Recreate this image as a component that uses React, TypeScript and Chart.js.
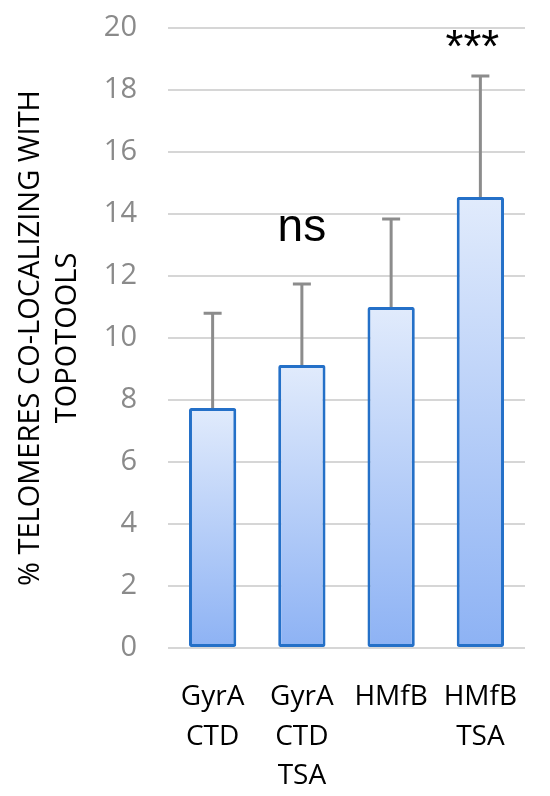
import React, { useEffect, useRef } from "react";
import { Chart, registerables } from "chart.js";

Chart.register(...registerables);

const categories: (string | string[])[] = [["GyrA", "CTD"], ["GyrA", "CTD", "TSA"], "HMfB", ["HMfB", "TSA"]];
const values: number[] = [7.74, 9.13, 11.0, 14.55];
const errors: number[] = [3.06, 2.61, 2.84, 3.9];
const significance: string[] = ["", "ns", "", "***"];
const yTitle: string[] = ["% TELOMERES CO-LOCALIZING WITH", "TOPOTOOLS"];
const yMin = 0;
const yMax = 20;
const yStep = 2;

const FONT = "'Open Sans', 'Liberation Sans', sans-serif";

const errorBarPlugin = {
  id: "errorBars",
  afterDatasetsDraw(chart: any) {
    const { ctx } = chart;
    const meta = chart.getDatasetMeta(0);
    const y = chart.scales.y;
    ctx.save();
    ctx.strokeStyle = "#8c8c8c";
    ctx.lineWidth = 3;
    meta.data.forEach((bar: any, i: number) => {
      const x = bar.x;
      const yTop = y.getPixelForValue(values[i] + errors[i]);
      const yBase = y.getPixelForValue(values[i]);
      ctx.beginPath();
      ctx.moveTo(x, yBase);
      ctx.lineTo(x, yTop);
      ctx.moveTo(x - 9, yTop);
      ctx.lineTo(x + 9, yTop);
      ctx.stroke();
    });
    ctx.restore();
  },
};

const annotationPlugin = {
  id: "annotations",
  afterDraw(chart: any) {
    const { ctx, chartArea } = chart;
    const meta = chart.getDatasetMeta(0);
    const y = chart.scales.y;
    ctx.save();
    ctx.fillStyle = "#000";
    ctx.textAlign = "center";
    ctx.textBaseline = "middle";
    meta.data.forEach((bar: any, i: number) => {
      const s = significance[i];
      if (!s) return;
      if (s === "ns") {
        ctx.font = "46px 'Liberation Sans', Arial, sans-serif";
        ctx.fillText(s, bar.x, y.getPixelForValue(13.55));
      } else {
        ctx.font = "46px 'Liberation Sans', Arial, sans-serif";
        ctx.fillText(s, bar.x - 8, y.getPixelForValue(19.3));
      }
    });
    // y axis title
    ctx.fillStyle = "#000";
    ctx.font = `29px ${FONT}`;
    const cy = (chartArea.top + chartArea.bottom) / 2;
    ctx.translate(0, cy);
    ctx.rotate(-Math.PI / 2);
    ctx.fillText(yTitle[0], 0, 31);
    ctx.fillText(yTitle[1], 0, 68);
    ctx.restore();
  },
};

export default function App() {
  const canvasRef = useRef<HTMLCanvasElement>(null);
  useEffect(() => {
    const canvas = canvasRef.current!;
    const chart = new Chart(canvas, {
      type: "bar",
      data: {
        labels: categories,
        datasets: [
          {
            data: values,
            backgroundColor: (c: any) => {
              const ch = c.chart;
              if (!ch.chartArea || c.dataIndex === undefined) return "#b5cdf7";
              const ys = ch.scales.y;
              const top = ys.getPixelForValue(values[c.dataIndex]);
              const bot = ys.getPixelForValue(0);
              const g = ch.ctx.createLinearGradient(0, top, 0, bot);
              g.addColorStop(0, "#e1ebfc");
              g.addColorStop(1, "#8db2f4");
              return g;
            },
            borderColor: "#2470c8",
            borderWidth: 3,
            borderRadius: 2,
            borderSkipped: false,
            categoryPercentage: 1,
            barPercentage: 0.53,
          },
        ],
      },
      options: {
        animation: false,
        responsive: false,
        maintainAspectRatio: false,
        layout: { padding: { left: 0, right: 25, top: 28, bottom: 0 } },
        plugins: { legend: { display: false }, tooltip: { enabled: false } },
        scales: {
          x: {
            grid: { display: false },
            border: { display: false },
            ticks: {
              color: "#000",
              font: { family: FONT, size: 28, lineHeight: 1.42 },
              padding: 21,
              maxRotation: 0,
              autoSkip: false,
            },
            afterFit: (s: any) => {
              s.height = 148;
              s.paddingLeft = 0;
              s.paddingRight = 0;
            },
          },
          y: {
            min: yMin,
            max: yMax,
            grid: { color: "#d6d6d6", lineWidth: 2, drawTicks: false },
            border: { display: false },
            ticks: {
              stepSize: yStep,
              color: "#8a8a8a",
              font: { family: FONT, size: 29 },
              padding: 31,
            },
            afterFit: (s: any) => {
              s.width = 168;
              s.paddingTop = 0;
              s.paddingBottom = 0;
            },
          },
        },
      },
      plugins: [errorBarPlugin, annotationPlugin],
    });
    return () => chart.destroy();
  }, []);
  return (
    <div style={{ position: "fixed", left: 0, top: 0, width: 550, height: 796, background: "#fff" }}>
      <canvas ref={canvasRef} width={550} height={796} />
    </div>
  );
}
